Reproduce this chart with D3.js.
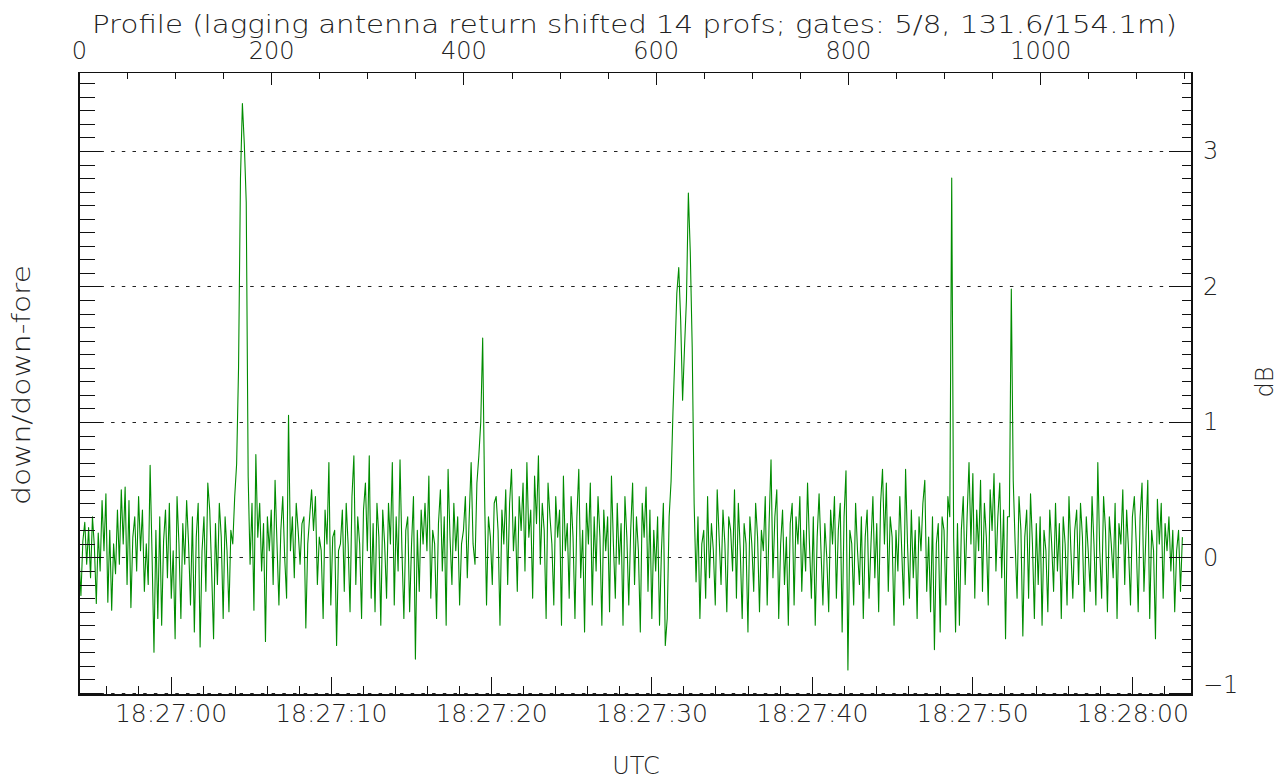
<!DOCTYPE html>
<html>
<head>
<meta charset="utf-8">
<script src="https://cdn.jsdelivr.net/npm/d3@7"></script>
<style>
  body { margin: 0; background: #fff; }
  text { font-family: "DejaVu Sans", sans-serif; font-weight: 200; fill: #222; }
</style>
</head>
<body>
<svg id="chart" width="1287" height="780"></svg>
<script>
// down/down-fore ratio in dB, one value every 2 profiles (profile 0 .. 1148)
const dbValues = [
  0.00, -0.28, 0.12, 0.26, -0.05, 0.22, -0.15, 0.30, 0.08, -0.34,
  0.18, -0.10, 0.42, 0.05, 0.47, -0.33, 0.20, -0.39, 0.10, -0.12,
  0.35, -0.05, 0.50, 0.10, 0.52, -0.20, 0.42, -0.37, 0.15, 0.30,
  -0.10, 0.45, 0.05, 0.35, -0.25, 0.10, -0.20, 0.68, 0.02, -0.70,
  0.20, -0.45, 0.30, -0.50, 0.12, 0.35, -0.15, 0.40, -0.30, 0.05,
  -0.60, 0.45, 0.10, -0.45, 0.25, -0.05, 0.42, 0.10, -0.35, 0.30,
  -0.55, 0.15, 0.40, -0.66, 0.05, 0.30, -0.25, 0.55, 0.35, -0.10,
  -0.60, 0.25, -0.20, 0.40, 0.15, -0.45, 0.30, 0.05, -0.40, 0.20,
  0.10, 0.45, 0.69, 1.40, 2.80, 3.35, 3.05, 2.62, 0.60, -0.05,
  0.40, -0.39, 0.76, 0.15, 0.40, -0.10, 0.25, -0.62, 0.30, 0.05,
  0.35, -0.20, 0.57, 0.10, -0.35, 0.20, 0.45, 0.00, -0.30, 1.05,
  0.05, 0.30, -0.15, 0.40, 0.20, -0.05, 0.25, 0.30, -0.52, 0.10,
  0.30, 0.50, 0.20, 0.45, -0.20, 0.15, 0.05, -0.45, 0.35, 0.10,
  0.70, -0.35, 0.15, 0.20, -0.65, 0.05, 0.10, 0.35, -0.25, 0.40,
  0.10, -0.40, 0.45, 0.75, -0.20, 0.30, 0.10, -0.45, 0.35, 0.55,
  0.05, 0.75, -0.30, 0.25, -0.40, 0.40, 0.15, -0.50, 0.35, 0.10,
  -0.30, 0.40, 0.10, 0.70, -0.35, 0.30, -0.10, 0.72, 0.05, -0.45,
  0.20, 0.30, -0.40, 0.10, 0.45, -0.75, 0.20, -0.25, 0.35, 0.10,
  0.40, 0.05, 0.60, -0.30, 0.20, 0.10, -0.45, 0.25, 0.50, -0.10,
  0.30, -0.50, 0.65, 0.15, -0.20, 0.40, 0.05, 0.30, -0.35, 0.10,
  0.20, 0.45, -0.15, 0.30, 0.70, 0.10, -0.05, 0.55, 0.75, 1.00,
  1.62, 0.45, -0.35, 0.30, 0.15, -0.20, 0.40, 0.45, 0.20, -0.50,
  0.35, 0.10, 0.50, -0.20, 0.40, 0.65, 0.05, 0.30, -0.25, 0.45,
  0.20, 0.55, -0.10, 0.70, 0.15, 0.35, -0.30, 0.60, 0.25, 0.75,
  -0.05, 0.40, 0.20, -0.45, 0.55, 0.30, 0.10, -0.35, 0.45, 0.15,
  0.35, -0.50, 0.60, 0.05, 0.25, -0.30, 0.45, 0.15, -0.45, 0.30,
  0.65, -0.15, 0.20, -0.55, 0.40, 0.10, 0.55, -0.35, 0.30, -0.10,
  0.45, 0.15, -0.50, 0.35, 0.05, 0.30, -0.40, 0.60, 0.10, -0.30,
  0.40, -0.05, 0.25, -0.50, 0.45, 0.15, -0.35, 0.20, 0.55, -0.20,
  0.30, 0.05, -0.55, 0.40, 0.15, 0.52, -0.25, 0.35, -0.45, 0.20,
  -0.10, 0.30, -0.50, 0.05, 0.40, -0.65, -0.45, 0.30, 0.56, 1.08,
  1.50, 1.95, 2.14, 1.75, 1.16, 1.55, 1.90, 2.69, 2.25, 1.55,
  0.40, -0.18, 0.30, -0.45, 0.10, 0.20, -0.30, 0.45, -0.15, 0.25,
  0.05, -0.35, 0.50, 0.15, -0.20, 0.35, 0.10, -0.40, 0.30, 0.20,
  -0.10, 0.50, -0.30, 0.40, 0.05, -0.45, 0.25, 0.10, -0.55, 0.30,
  0.10, -0.25, 0.40, 0.15, -0.40, 0.20, 0.05, 0.45, -0.35, 0.25,
  0.72, -0.15, 0.30, 0.50, -0.45, 0.10, 0.35, -0.20, 0.15, -0.50,
  0.25, 0.40, -0.35, 0.30, 0.10, 0.45, -0.25, 0.20, -0.10, 0.55,
  0.10, -0.30, 0.30, -0.50, 0.15, 0.47, 0.05, -0.35, 0.25, 0.00,
  -0.40, 0.35, 0.10, 0.45, -0.30, 0.20, 0.40, -0.55, 0.30, 0.64,
  -0.83, 0.20, 0.10, -0.35, 0.40, 0.05, -0.20, 0.30, -0.45, 0.15,
  0.35, -0.30, 0.10, 0.45, -0.15, 0.25, -0.40, 0.40, 0.65, 0.10,
  0.55, -0.25, 0.30, 0.15, -0.50, 0.20, -0.10, 0.45, 0.05, -0.35,
  0.65, 0.10, -0.30, 0.35, -0.15, 0.20, -0.45, 0.30, 0.05, 0.40,
  0.57, -0.25, 0.15, -0.40, 0.30, -0.68, 0.10, 0.25, -0.55, 0.30,
  0.20, -0.35, 0.45, 0.30, 2.80, 0.15, -0.55, 0.25, -0.50, 0.20,
  0.45, -0.20, 0.30, 0.70, 0.10, 0.62, -0.30, 0.35, 0.05, 0.57,
  -0.25, 0.40, 0.15, -0.35, 0.50, 0.20, 0.62, -0.10, 0.30, 0.55,
  -0.15, 0.35, -0.60, 0.30, 0.30, 1.98, 0.57, 0.10, -0.30, 0.45,
  0.20, -0.58, 0.15, 0.35, -0.30, 0.47, 0.10, -0.45, 0.25, -0.20,
  0.30, -0.50, 0.20, 0.05, -0.40, 0.35, 0.10, -0.25, 0.40, -0.10,
  0.25, -0.45, 0.30, 0.10, -0.35, 0.45, 0.05, -0.30, 0.20, 0.35,
  -0.20, 0.40, 0.15, -0.40, 0.30, 0.05, -0.25, 0.45, 0.10, -0.35,
  0.70, 0.05, -0.30, 0.45, 0.20, -0.40, 0.30, 0.10, -0.15, 0.40,
  -0.45, 0.25, 0.10, 0.50, -0.20, 0.35, 0.05, -0.35, 0.30, 0.45,
  0.10, -0.40, 0.30, 0.55, -0.25, 0.15, 0.57, -0.45, 0.20, 0.05,
  -0.60, 0.43, 0.10, 0.40, -0.30, 0.25, 0.05, 0.30, -0.10, 0.20,
  -0.40, 0.05, 0.20, -0.25, 0.15
];
const profileStep = 2;

const profileTicks = [0, 200, 400, 600, 800, 1000];
const profileMinor = d3.range(0, 1158, 50);
const dbTicks = [-1, 0, 1, 2, 3];
const dbMinor = d3.range(-10, 36).map(d => d / 10);
const timeLabels = ["18:27:00", "18:27:10", "18:27:20", "18:27:30", "18:27:40", "18:27:50", "18:28:00"];

const title = "Profile (lagging antenna return shifted 14 profs; gates: 5/8, 131.6/154.1m)";

const plotLeft = 79, plotRight = 1192, plotTop = 72.5, plotBottom = 695;

const utc = (h, m, s, ms) => new Date(Date.UTC(2000, 0, 1, h, m, s, ms || 0));
const parseTime = d3.utcParse("%H:%M:%S");
const timeTicks = timeLabels.map(s => { const d = parseTime(s); return utc(d.getUTCHours(), d.getUTCMinutes(), d.getUTCSeconds()); });
const timeMinor = d3.utcSecond.every(2).range(utc(18, 26, 56), utc(18, 28, 4));

const x = d3.scaleLinear().domain([0, 1158]).range([plotLeft, plotRight]);
const t = d3.scaleUtc().domain([utc(18, 26, 54, 290), utc(18, 28, 3, 730)]).range([plotLeft, plotRight]);
const y = d3.scaleLinear().domain([-1.015, 3.579]).range([plotBottom, plotTop]);

const svg = d3.select("#chart");

// dotted grid lines
svg.append("g")
    .selectAll("line")
    .data(dbTicks)
    .join("line")
    .attr("x1", plotLeft)
    .attr("x2", plotRight)
    .attr("y1", d => Math.round(y(d)) + 0.5)
    .attr("y2", d => Math.round(y(d)) + 0.5)
    .attr("stroke", "#222")
    .attr("stroke-width", 1)
    .attr("stroke-dasharray", "3.5,7.2");

// data trace
const line = d3.line()
    .x((d, i) => x(i * profileStep))
    .y(d => y(d));

svg.append("path")
    .datum(dbValues)
    .attr("d", line)
    .attr("fill", "none")
    .attr("stroke", "#008c00")
    .attr("stroke-width", 1.1)
    .attr("stroke-linejoin", "round");

function styleAxis(g) {
    g.select(".domain").remove();
    g.selectAll(".tick line").attr("stroke", "#111").attr("shape-rendering", "crispEdges");
    g.selectAll("text").attr("fill", "#222").attr("font-family", "DejaVu Sans, sans-serif");
}

// bottom axis (time)
svg.append("g")
    .attr("transform", `translate(0,${plotBottom})`)
    .call(d3.axisBottom(t).tickValues(timeMinor).tickSize(-9).tickFormat(""))
    .call(styleAxis);
svg.append("g")
    .attr("transform", `translate(0,${plotBottom})`)
    .call(d3.axisBottom(t).tickValues(timeTicks).tickSize(-18).tickPadding(9)
        .tickFormat((d, i) => timeLabels[i]))
    .call(styleAxis)
    .selectAll("text").attr("font-size", 25);

// top axis (profile)
svg.append("g")
    .attr("transform", `translate(0,${plotTop})`)
    .call(d3.axisTop(x).tickValues(profileMinor).tickSize(-6).tickFormat(""))
    .call(styleAxis);
svg.append("g")
    .attr("transform", `translate(0,${plotTop})`)
    .call(d3.axisTop(x).tickValues(profileTicks).tickSize(-12).tickPadding(13.5).tickFormat(d3.format("d")))
    .call(styleAxis)
    .selectAll("text").attr("font-size", 24);

// left axis, no labels
svg.append("g")
    .attr("transform", `translate(${plotLeft},0)`)
    .call(d3.axisLeft(y).tickValues(dbMinor).tickSize(-16).tickFormat(""))
    .call(styleAxis);
svg.append("g")
    .attr("transform", `translate(${plotLeft},0)`)
    .call(d3.axisLeft(y).tickValues(dbTicks).tickSize(-23).tickFormat(""))
    .call(styleAxis);

// right axis (dB)
svg.append("g")
    .attr("transform", `translate(${plotRight},0)`)
    .call(d3.axisRight(y).tickValues(dbMinor).tickSize(-10).tickFormat(""))
    .call(styleAxis);
svg.append("g")
    .attr("transform", `translate(${plotRight},0)`)
    .call(d3.axisRight(y).tickValues(dbTicks).tickSize(-23).tickPadding(11).tickFormat(d3.format("d")))
    .call(styleAxis)
    .selectAll("text").attr("font-size", 24)
    .attr("dy", d => d === -1 ? "0.0em" : "0.32em");

// plot frame
svg.append("rect")
    .attr("x", plotLeft)
    .attr("y", plotTop)
    .attr("width", plotRight - plotLeft)
    .attr("height", plotBottom - plotTop)
    .attr("fill", "none")
    .attr("stroke", "#111")
    .attr("stroke-width", 1.3)
    .attr("shape-rendering", "crispEdges");

// titles
svg.append("text")
    .attr("x", (92 + 1177) / 2)
    .attr("y", 33)
    .attr("text-anchor", "middle")
    .attr("font-size", 24)
    .attr("textLength", 1085)
    .attr("lengthAdjust", "spacingAndGlyphs")
    .text(title);

svg.append("text")
    .attr("x", 636)
    .attr("y", 774)
    .attr("text-anchor", "middle")
    .attr("font-size", 24)
    .text("UTC");

svg.append("text")
    .attr("transform", "translate(30,385) rotate(-90)")
    .attr("text-anchor", "middle")
    .attr("font-size", 24)
    .attr("textLength", 240)
    .attr("lengthAdjust", "spacingAndGlyphs")
    .text("down/down-fore");

svg.append("text")
    .attr("transform", "translate(1273,382) rotate(-90)")
    .attr("text-anchor", "middle")
    .attr("font-size", 24)
    .text("dB");
</script>
</body>
</html>
